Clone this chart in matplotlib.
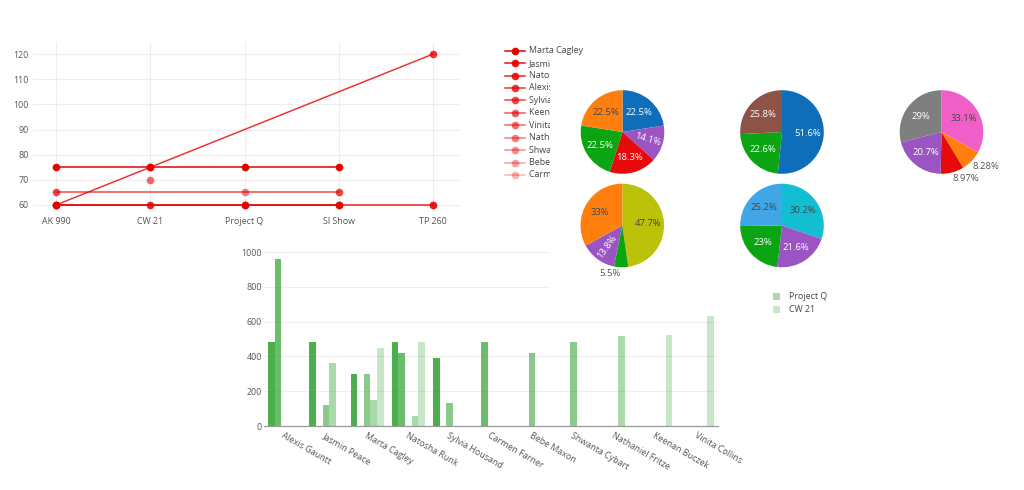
"""Team hours dashboard: rate per project, cost per person, and project split pies."""

import matplotlib

matplotlib.use("Agg")
import matplotlib.pyplot as plt
import numpy as np
from matplotlib.patches import Rectangle

plt.rcParams["font.family"] = ["Open Sans", "DejaVu Sans"]

# --- line chart: hourly rate of each person on each project ---
projects = ["AK 990", "CW 21", "Project Q", "SI Show", "TP 260"]
line_people = [
    "Marta Cagley", "Jasmin Peace", "Natosha Runk", "Alexis Gauntt",
    "Sylvia Housand", "Keenan Buczek", "Vinita Collins", "Nathaniel Fritze",
    "Shwanta Cybart", "Bebe Maxon", "Carmen Farner",
]
line_x = [
    ["AK 990", "CW 21", "Project Q", "SI Show"],
    ["AK 990", "Project Q", "SI Show"],
    ["AK 990", "CW 21", "Project Q", "TP 260"],
    ["AK 990", "TP 260"],
    ["AK 990", "SI Show"],
    ["CW 21"],
    ["CW 21"],
    ["Project Q"],
    ["SI Show"],
    ["SI Show"],
    ["TP 260"],
]
line_y = [
    [75, 75, 75, 75],
    [60, 60, 60],
    [60, 60, 60, 60],
    [60, 120],
    [65, 65],
    [75],
    [70],
    [65],
    [60],
    [60],
    [60],
]

# --- bar chart: cost per person, one series per project ---
bar_people = [
    "Alexis Gauntt", "Jasmin Peace", "Marta Cagley", "Natosha Runk",
    "Sylvia Housand", "Carmen Farner", "Bebe Maxon", "Shwanta Cybart",
    "Nathaniel Fritze", "Keenan Buczek", "Vinita Collins",
]
bar_projects = ["AK 990", "TP 260", "SI Show", "Project Q", "CW 21"]
ak990 = [480, 480, 300, 480, 390, 0, 0, 0, 0, 0, 0]
tp260 = [960, 0, 0, 420, 0, 480, 0, 0, 0, 0, 0]
si_show = [0, 120, 300, 0, 130, 0, 420, 480, 0, 0, 0]
project_q = [0, 360, 150, 60, 0, 0, 0, 0, 520, 0, 0]
cw21 = [0, 0, 450, 480, 0, 0, 0, 0, 0, 525, 630]
bar_series = [ak990, tp260, si_show, project_q, cw21]

# --- pies: share of hours (percent) ---
pie1 = [22.5, 14.1, 18.3, 22.5, 22.5]
pie2 = [51.6, 22.6, 25.8]
pie3 = [33.1, 8.28, 8.97, 20.7, 29]
pie4 = [47.7, 5.5, 13.8, 33]
pie5 = [30.2, 21.6, 23, 25.2]

BLUE, ORANGE, GREEN, RED = "#0e6eb9", "#ff7f0e", "#0ba514", "#e60a0a"
PURPLE, BROWN, PINK, GRAY = "#9b55c3", "#8c5346", "#f05fc8", "#7f7f7f"
OLIVE, CYAN, LBLUE = "#bcc20a", "#12bfd2", "#41a6e6"
pie1_colors = [BLUE, PURPLE, RED, GREEN, ORANGE]
pie2_colors = [BLUE, GREEN, BROWN]
pie3_colors = [PINK, ORANGE, RED, PURPLE, GRAY]
pie4_colors = [OLIVE, GREEN, PURPLE, ORANGE]
pie5_colors = [CYAN, PURPLE, GREEN, LBLUE]

W, H = 1024, 490
TXT = "#555555"
fig = plt.figure(figsize=(W / 100, H / 100), dpi=100)
fig.patch.set_facecolor("white")


def px_axes(left, top, right, bottom):
    return fig.add_axes([left / W, 1 - bottom / H, (right - left) / W, (bottom - top) / H])


# line chart
ax = px_axes(33, 42, 460, 210)
red = "#e60000"
pos = {p: i for i, p in enumerate(projects)}
for i, (xs, ys) in enumerate(zip(line_x, line_y)):
    ax.plot([pos[p] for p in xs], ys, color=red, alpha=1 - 0.07 * i,
            lw=1.1, marker="o", ms=5.5, mew=0, zorder=3)
ax.set_xlim(-0.244, 4.286)
ax.set_ylim(58.0, 124.8)
ax.set_xticks(range(len(projects)))
ax.set_xticklabels(projects)
ax.set_yticks(range(60, 121, 10))
ax.grid(True, color="#eeeeee", lw=0.8)
ax.set_axisbelow(True)
for s in ax.spines.values():
    s.set_visible(False)
ax.tick_params(length=0, labelsize=6.4, labelcolor=TXT)
ax.tick_params(axis="x", pad=5.2)
ax.tick_params(axis="y", pad=3)

# line legend (names run under the pie panel and get cut there)
lax = px_axes(495, 40, 600, 190)
lax.set_xlim(495, 600)
lax.set_ylim(190, 40)
lax.axis("off")
for i, name in enumerate(line_people):
    y = 50.7 + 12.43 * i
    lax.plot([505, 525], [y, y], color=red, alpha=1 - 0.07 * i, lw=1.1)
    lax.plot([515], [y], color=red, alpha=1 - 0.07 * i, marker="o", ms=5.5, mew=0)
    lax.text(529, y, name, fontsize=6.4, color="#444444", va="center", ha="left")

# bar chart
bx = px_axes(264, 250.3, 717.8, 426)
green = "#2ca02c"
bar_alpha = [0.85, 0.7, 0.55, 0.4, 0.26]
n = len(bar_projects)
bw = 0.8 / n
xc = np.arange(len(bar_people))
for k, vals in enumerate(bar_series):
    bx.bar(xc + (k - (n - 1) / 2) * bw, vals, width=bw, color=green,
           alpha=bar_alpha[k], lw=0, zorder=2)
bx.set_xlim(-0.5, len(bar_people) - 0.5)
bx.set_ylim(0, 1010)
bx.set_yticks(range(0, 1001, 200))
bx.set_xticks(xc)
bx.set_xticklabels(bar_people, rotation=-30, ha="left", va="top",
                   rotation_mode="anchor")
bx.grid(True, axis="y", color="#eeeeee", lw=0.8)
bx.set_axisbelow(True)
for s in ["top", "right", "left"]:
    bx.spines[s].set_visible(False)
bx.spines["bottom"].set_color("#9a9a9a")
bx.spines["bottom"].set_linewidth(0.9)
bx.tick_params(length=0, labelsize=6.4, labelcolor=TXT)
bx.tick_params(axis="x", pad=3.5)
bx.tick_params(axis="y", pad=1.5)

# bar legend: only the last two rows show below the pie panel
gx = px_axes(765, 285, 860, 318)
gx.set_xlim(765, 860)
gx.set_ylim(318, 285)
gx.axis("off")
for j, k in enumerate([3, 4]):
    y = 296 + 13 * j
    gx.add_patch(Rectangle((773, y - 3.5), 7, 7, color=green, alpha=bar_alpha[k], lw=0))
    gx.text(789, y, bar_projects[k], fontsize=6.4, color="#444444", va="center", ha="left")

# white panel behind the pies (hides gridlines and legend overflow)
fig.add_artist(Rectangle((550 / W, 1 - 289.5 / H), (W - 550) / W, (289.5 - 57) / H,
                         transform=fig.transFigure, facecolor="white",
                         edgecolor="none", zorder=4))

# pies
R = 41.8
pie_centers = [(622.5, 132), (782, 132), (941.5, 132), (622.3, 225.5), (782, 225.5)]
pies = [(pie1, pie1_colors), (pie2, pie2_colors), (pie3, pie3_colors),
        (pie4, pie4_colors), (pie5, pie5_colors)]


def brightness(c):
    r, g, b = matplotlib.colors.to_rgb(c)
    return 0.299 * r + 0.587 * g + 0.114 * b


for (cx, cy), (vals, cols) in zip(pie_centers, pies):
    pax = px_axes(cx - R, cy - R, cx + R, cy + R)
    pax.set_zorder(5)
    wedges, _ = pax.pie(vals, colors=cols, startangle=90, counterclock=False,
                        radius=1, wedgeprops=dict(linewidth=0))
    pax.set_xlim(-1, 1)
    pax.set_ylim(-1, 1)
    for wdg, v, c in zip(wedges, vals, cols):
        mid = (wdg.theta1 + wdg.theta2) / 2
        m = np.deg2rad(mid)
        label = f"{v:g}%"
        if v < 10:
            x, y = 1.04 * np.cos(m), 1.04 * np.sin(m)
            pax.text(x, y, label, fontsize=6.8, color=TXT,
                     ha="left" if np.cos(m) > 0 else "right", va="top")
            continue
        tc = "#444444" if brightness(c) > 0.53 else "white"
        # narrow slices: text runs along the radius
        rot = (mid + 90) % 180 - 90 if v < 16 else 0
        pax.text(0.62 * np.cos(m), 0.62 * np.sin(m), label, fontsize=6.8,
                 color=tc, ha="center", va="center", rotation=rot)

fig.savefig("out.png", dpi=100, facecolor="white")
